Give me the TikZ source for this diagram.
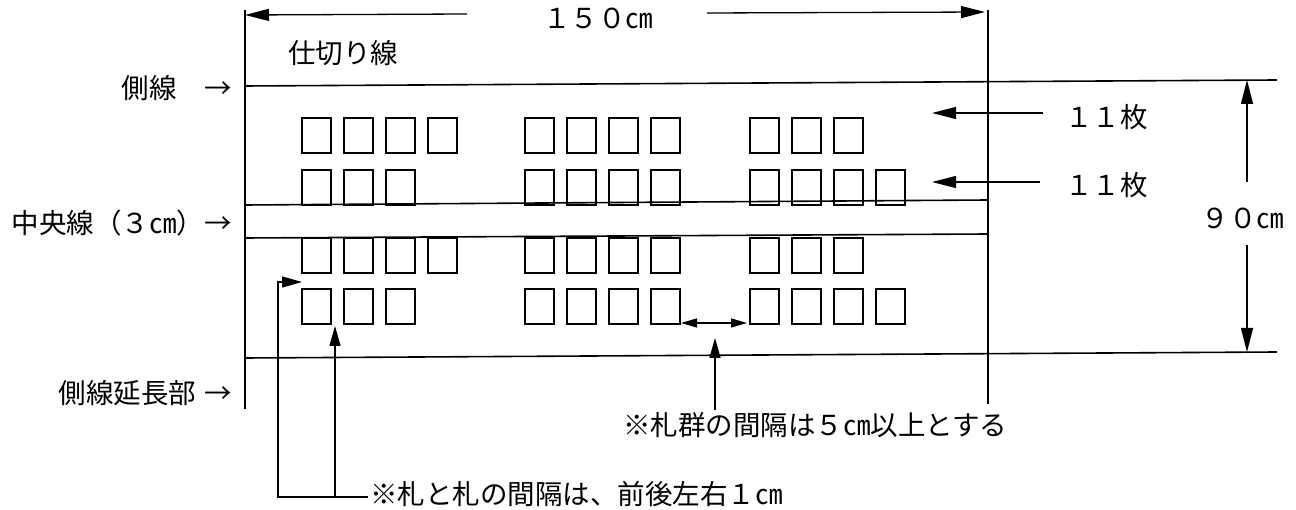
\documentclass[tikz,border=0pt]{standalone}
\usepackage{fontspec}
\setmainfont{Noto Sans CJK JP}
\usetikzlibrary{arrows.meta}
\begin{document}
\begin{tikzpicture}[x=1pt,y=-1pt,
  ln/.style={line width=1.6pt},
  thin/.style={line width=1.3pt},
  tip/.style={-{Triangle[length=24pt,width=12pt]}},
  smalltip/.style={{Triangle[length=16pt,width=9pt]}-{Triangle[length=16pt,width=9pt]}},
  lbl/.style={font=\fontsize{27.5}{30}\selectfont, inner sep=0pt},
  card/.style={line width=1.4pt}]
\useasboundingbox (0,0) rectangle (1296,510);
\fill[white] (0,0) rectangle (1296,510);

% frame lines
\coordinate (lt) at (245,10);
\coordinate (lb) at (245,409);
\coordinate (rt) at (988,10);
\coordinate (rb) at (988,404);
\draw[ln] (lt) -- (lb);
\draw[ln] (rt) -- (rb);

\coordinate (sideL) at (245,86);
\coordinate (sideR) at (1277,80);
\draw[ln] (sideL) -- (sideR);
\coordinate (c1L) at (245,205);
\coordinate (c1R) at (988,200);
\draw[ln] (c1L) -- (c1R);
\coordinate (c2L) at (245,238);
\coordinate (c2R) at (988,234);
\draw[ln] (c2L) -- (c2R);
\coordinate (extL) at (245,358);
\coordinate (extR) at (1277,352);
\draw[ln] (extL) -- (extR);

% cards
\foreach \gx/\n/\ry in {302/4/118, 525/4/118, 750/3/118,
                        302/3/170, 525/4/170, 750/4/170,
                        302/4/238, 525/4/238, 750/3/238,
                        302/3/289, 525/4/289, 750/4/289}{
  \foreach \i in {1,...,\n}{
    \draw[card] ({\gx+(\i-1)*42},\ry) rectangle ++(29,35);
  }
}

% labels
\node[lbl, anchor=center] (width) at (598,18) {１５０㎝};
\node[lbl, anchor=west] (shikiri) at (288,53) {仕切り線};
\node[lbl, anchor=east] (sokusen) at (232,88) {側線　→};
\node[lbl, anchor=east] (chuo) at (232,223) {中央線（３㎝）→};
\node[lbl, anchor=east] (encho) at (232,393) {側線延長部\hspace{8pt}→};
\node[lbl, anchor=west] (mai1) at (1065,117) {１１枚};
\node[lbl, anchor=west] (mai2) at (1065,185) {１１枚};
\node[lbl, anchor=center] (h90) at (1243,218) {９０㎝};
\node[lbl, anchor=west] (gap5) at (623,425) {※札群の間隔は５㎝以上とする};
\node[lbl, anchor=west] (gap1) at (370,494) {※札と札の間隔は、前後左右１㎝};

% width dimension
\coordinate (wl1) at (467,14);
\coordinate (wl2) at (245,15);
\coordinate (wr1) at (707,13);
\coordinate (wr2) at (985,12);
\draw[thin,tip] (wl1) -- (wl2);
\draw[thin,tip] (wr1) -- (wr2);

% height dimension
\coordinate (hu1) at (1247,182);
\coordinate (hu2) at (1247,80);
\coordinate (hd1) at (1247,245);
\coordinate (hd2) at (1247,352);
\draw[thin,tip] (hu1) -- (hu2);
\draw[thin,tip] (hd1) -- (hd2);

% 11 mai arrows
\coordinate (m1a) at (1043,113);
\coordinate (m1b) at (932,113);
\coordinate (m2a) at (1040,182);
\coordinate (m2b) at (932,182);
\draw[thin,tip] (m1a) -- (m1b);
\draw[thin,tip] (m2a) -- (m2b);

% group gap
\coordinate (ga) at (681,323);
\coordinate (gb) at (747,323);
\draw[thin,smalltip] (ga) -- (gb);
\coordinate (gu1) at (715,410);
\coordinate (gu2) at (715,338);
\draw[thin,-{Triangle[length=20pt,width=11pt]}] (gu1) -- (gu2);

% card gap leaders
\coordinate (b0) at (368,497);
\coordinate (b1) at (278,497);
\coordinate (b2) at (278,282);
\coordinate (b3) at (302,282);
\coordinate (v0) at (335,497);
\coordinate (v1) at (335,326);
\draw[thin,-{Triangle[length=20pt,width=11pt]}] (b0) -- (b1) -- (b2) -- (b3);
\draw[thin,-{Triangle[length=20pt,width=11pt]}] (v0) -- (v1);
\end{tikzpicture}
\end{document}
